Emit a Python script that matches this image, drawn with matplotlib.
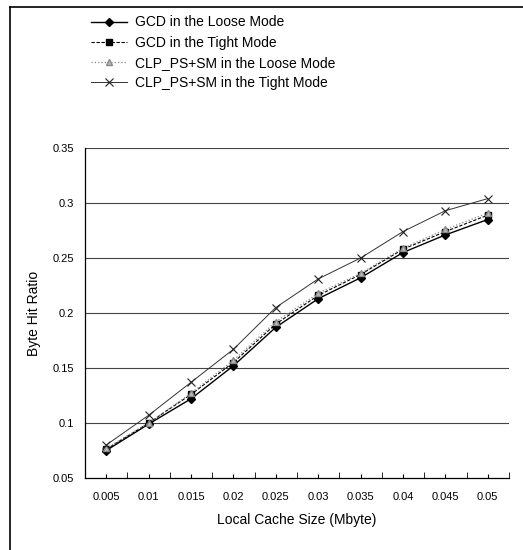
import matplotlib
matplotlib.use('Agg')
import matplotlib.pyplot as plt
from matplotlib.lines import Line2D

# data
cacheSizes = ['0.005', '0.01', '0.015', '0.02', '0.025', '0.03', '0.035', '0.04', '0.045', '0.05']
gcdLoose = [0.075, 0.099, 0.122, 0.152, 0.187, 0.213, 0.232, 0.255, 0.271, 0.285]
gcdTight = [0.076, 0.100, 0.126, 0.155, 0.190, 0.216, 0.235, 0.258, 0.274, 0.289]
clpLoose = [0.077, 0.100, 0.127, 0.157, 0.192, 0.218, 0.236, 0.259, 0.276, 0.291]
clpTight = [0.080, 0.107, 0.137, 0.167, 0.205, 0.231, 0.250, 0.274, 0.293, 0.304]
yTicks = [0.05, 0.1, 0.15, 0.2, 0.25, 0.3, 0.35]
yTickLabels = ['0.05', '0.1', '0.15', '0.2', '0.25', '0.3', '0.35']
legendNames = ['GCD in the Loose Mode', 'GCD in the Tight Mode',
               'CLP_PS+SM in the Loose Mode', 'CLP_PS+SM in the Tight Mode']

plt.rcParams['font.family'] = ['Liberation Sans', 'DejaVu Sans']

fig = plt.figure(figsize=(5.23, 5.5), dpi=100)
ax = fig.add_axes([85/523, 1-478/550, 424/523, 330/550])

xx = list(range(len(cacheSizes)))
styles = [
    dict(color='black', ls='-', lw=1.0, marker='D', ms=4.5, mfc='black', mec='black'),
    dict(color='black', ls=(0, (3, 1.5)), lw=0.8, marker='s', ms=5, mfc='black', mec='black'),
    dict(color='#888888', ls=':', lw=0.9, marker='^', ms=4, mfc='#bbbbbb', mec='#888888'),
    dict(color='#333333', ls='-', lw=0.7, marker='x', ms=6, mew=0.8, mec='#222222'),
]
series = [gcdLoose, gcdTight, clpLoose, clpTight]
for vals, st in zip(series, styles):
    ax.plot(xx, vals, zorder=3, **st)

ax.set_xlim(-0.5, len(cacheSizes) - 0.5)
ax.set_ylim(0.05, 0.35)
ax.set_yticks(yTicks)
ax.set_yticklabels(yTickLabels, fontsize=8)
ax.set_xticks(xx)
ax.set_xticklabels(cacheSizes, fontsize=8)
ax.set_xticks([i - 0.5 for i in range(len(cacheSizes) + 1)], minor=True)
ax.tick_params(axis='x', which='major', length=3, direction='in', pad=10)
ax.tick_params(axis='x', which='minor', length=4, direction='in')
ax.tick_params(axis='y', length=0, pad=8)

for yv in yTicks[1:]:
    ax.axhline(yv, color='#444444', lw=0.8, ls='-', zorder=1)
ax.spines['right'].set_visible(False)
ax.spines['top'].set_visible(False)
ax.spines['left'].set_linewidth(0.9)
ax.spines['bottom'].set_linewidth(0.9)

ax.set_xlabel('Local Cache Size (Mbyte)', fontsize=10, labelpad=8)
ax.set_ylabel('Byte Hit Ratio', fontsize=10, labelpad=8)

handles = [Line2D([0], [0], **st) for st in styles]
fig.legend(handles, legendNames, loc='upper left', bbox_to_anchor=(78/523, 1-3/550),
           frameon=False, fontsize=10, handlelength=2.6, labelspacing=0.45,
           handletextpad=0.6)

# outer frame (left and top edges visible in the scan)
fig.add_artist(Line2D([10/523, 10/523], [0, 1-7/550], color='black', lw=1.2))
fig.add_artist(Line2D([10/523, 1], [1-7/550, 1-7/550], color='black', lw=1.2))

plt.savefig('out.png', dpi=100)
